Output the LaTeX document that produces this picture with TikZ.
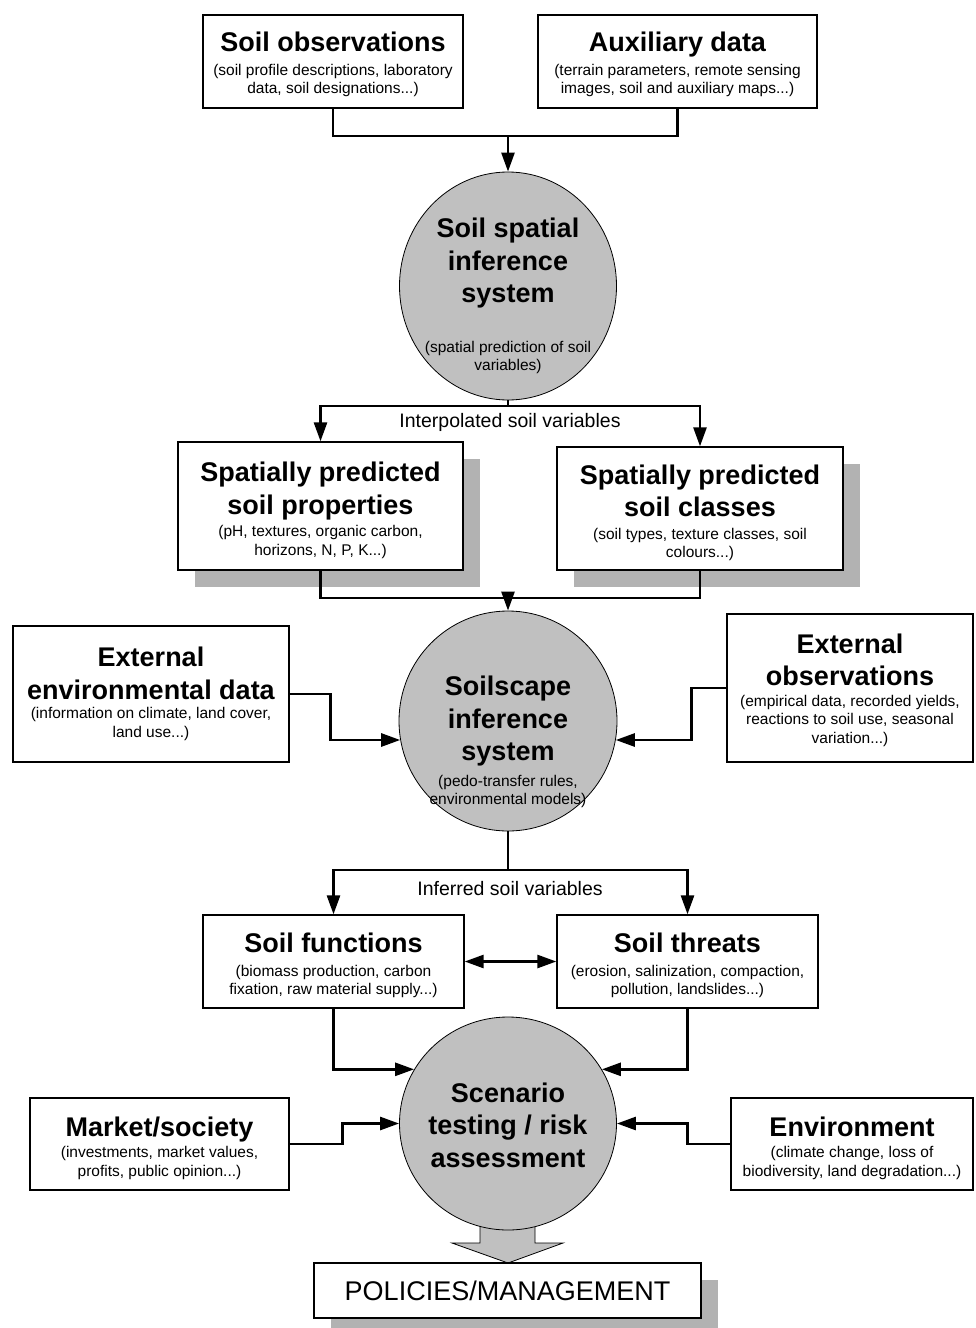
\documentclass[tikz,border=0pt]{standalone}
\usepackage{fontspec}
\setmainfont{Liberation Sans}
\usetikzlibrary{arrows.meta,shapes.geometric,shadows}
\setlength{\parindent}{0pt}
\definecolor{ellgray}{HTML}{C0C0C0}
\definecolor{shgray}{HTML}{B2B2B2}
\newcommand{\ctr}{\leftskip=0pt plus 1fil\rightskip=0pt plus 1fil\parfillskip=0pt\spaceskip=0pt\xspaceskip=0pt\relax}
\newcommand{\ttl}[2][26pt]{{\fontsize{27}{32.5}\selectfont\bfseries\ctr\rule{0pt}{#1}#2\par}}
\newcommand{\dsc}[2][5pt]{\vskip#1{\fontsize{15.5}{18.5}\selectfont\ctr #2\par}}

\begin{document}
\begin{tikzpicture}
  [x=1pt,y=-1pt,
   box/.style={draw,fill=white,line width=1.3pt,inner xsep=5pt,inner ysep=0pt,align=center},
   shbox/.style={box,drop shadow={shadow xshift=17pt,shadow yshift=-17pt,fill=shgray,opacity=1}},
   infer/.style={ellipse,draw,line width=.8pt,fill=ellgray,inner sep=0pt},
   etext/.style={text width=200pt,align=center,inner sep=0pt},
   conn/.style={line width=2.6pt},
   arr/.style={conn,-{Triangle[length=19pt,width=13pt]}},
   lbl/.style={font=\fontsize{19.5}{23}\selectfont,inner sep=0pt}]
  \useasboundingbox (0,0) rectangle (975,1328);

  % big arrow down to the policies box
  \draw[line width=.8pt,fill=ellgray] (480,1215) -- (480,1243) -- (452,1243) -- (508,1263)
    -- (563,1243) -- (535,1243) -- (535,1215);

  \node[box,text width=250pt,minimum height=93pt] (obs) at (333,61.5)
    {\ttl{Soil observations}\dsc{(soil profile descriptions, laboratory\\data, soil designations...)}};
  \node[box,text width=269pt,minimum height=93pt] (aux) at (677.5,61.5)
    {\ttl{Auxiliary data}\dsc{(terrain parameters, remote sensing\\images, soil and auxiliary maps...)}};

  \node[infer,minimum width=217pt,minimum height=228pt] (ssis) at (508,286) {};
  \node[etext] (ssis-t) at (508,294)
    {\ttl[24pt]{Soil spatial\\inference\\system}\dsc[31pt]{(spatial prediction of soil\\variables)}};

  \node[lbl] (interp) at (510,422) {Interpolated soil variables};
  \node[shbox,text width=275pt,minimum height=128pt] (props) at (320.5,506)
    {\ttl[28pt]{Spatially predicted\\soil properties}\dsc[4pt]{(pH, textures, organic carbon,\\horizons, N, P, K...)}};
  \node[shbox,text width=276pt,minimum height=123pt] (classes) at (700,508.5)
    {\ttl[28pt]{Spatially predicted\\soil classes}\dsc[4pt]{(soil types, texture classes, soil\\colours...)}};

  \node[box,text width=266pt,minimum height=136pt] (extenv) at (151,694)
    {\ttl[0pt]{External\\environmental data}\dsc[1pt]{(information on climate, land cover,\\land use...)}};
  \node[box,text width=236pt,minimum height=148pt] (extobs) at (850,688)
    {\ttl[24pt]{External\\observations}\dsc[2pt]{(empirical data, recorded yields,\\reactions to soil use, seasonal\\variation...)}};

  \node[infer,minimum width=218pt,minimum height=220pt] (scis) at (508,721) {};
  \node[etext] (scis-t) at (508,739)
    {\ttl{Soilscape\\inference\\system}\dsc[7pt]{(pedo-transfer rules,\\environmental models)}};

  \node[lbl] (inferred) at (510,889) {Inferred soil variables};
  \node[box,text width=251pt,minimum height=93pt] (func) at (333.5,961.5)
    {\ttl[28pt]{Soil functions}\dsc{(biomass production, carbon\\fixation, raw material supply...)}};
  \node[box,text width=251pt,minimum height=93pt] (threat) at (687.5,961.5)
    {\ttl[28pt]{Soil threats}\dsc{(erosion, salinization, compaction,\\pollution, landslides...)}};

  \node[infer,minimum width=217pt,minimum height=213pt] (scen) at (508,1123.5) {};
  \node[etext] (scen-t) at (508,1124) {\ttl[22pt]{Scenario\\testing / risk\\assessment}};

  \node[box,text width=249pt,minimum height=92pt] (market) at (159.5,1144)
    {\ttl[28pt]{Market/society}\dsc[3pt]{(investments, market values,\\profits, public opinion...)}};
  \node[box,text width=232pt,minimum height=92pt] (env) at (852,1144)
    {\ttl[28pt]{Environment}\dsc[3pt]{(climate change, loss of\\biodiversity, land degradation...)}};

  \node[shbox,text width=377pt,minimum height=55pt,font=\fontsize{27}{32}\selectfont] (pol) at (507.5,1290.5)
    {POLICIES/MANAGEMENT};

  \coordinate (j1) at (508,136);
  \coordinate (j2) at (508,406);
  \coordinate (j3) at (508,598);
  \coordinate (j4) at (508,870);

  \draw[conn] (obs.south) |- (j1) -| (aux.south);
  \draw[conn] (props.south) |- (j3) -| (classes.south);
  \foreach \from/\to in {ssis/j2, scis/j4}
    \draw[conn] (\from.south) -- (\to);
  \foreach \from/\to in {j1/ssis, j3/scis}
    \draw[arr] (\from) -- (\to.north);
  \foreach \from/\to in {j2/props, j2/classes, j4/func, j4/threat}
    \draw[arr] (\from) -| (\to.north);

  \draw[arr] (extenv.east) -- ++(41,0) |- (scis.190);
  \draw[arr] (extobs.west) -- ++(-35,0) |- (scis.350);
  \draw[conn,{Triangle[length=19pt,width=13pt]}-{Triangle[length=19pt,width=13pt]}] (func.east) -- (threat.west);
  \draw[arr] (func.south) |- (scen.150);
  \draw[arr] (threat.south) |- (scen.30);
  \draw[arr] (market.east) -- ++(53,0) |- (scen.west);
  \draw[arr] (env.west) -- ++(-43,0) |- (scen.east);
\end{tikzpicture}
\end{document}
